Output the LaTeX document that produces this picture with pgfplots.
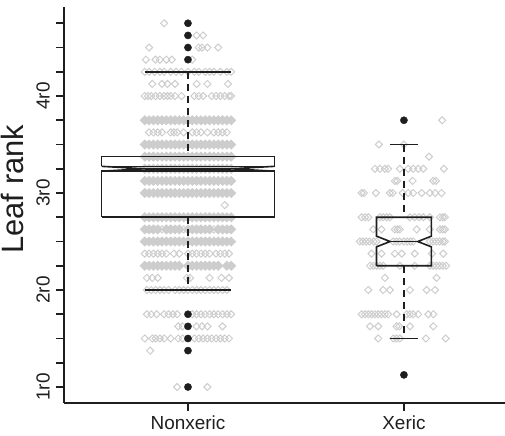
\documentclass[border=0pt]{standalone}
\usepackage{fontspec}
\setmainfont{Liberation Sans}
\usepackage{pgfplots}
\pgfplotsset{compat=1.18}
\definecolor{jit}{RGB}{205,205,205}
\definecolor{ink}{RGB}{30,30,30}
\begin{document}
\begin{tikzpicture}
\begin{axis}[
  at={(0,0)}, anchor=south west,
  scale only axis, width=441bp, height=396bp,
  xmin=0.426, xmax=2.468, ymin=0.835, ymax=4.918,
  enlargelimits=false,
  axis lines=left, axis line style={-, ink},
  x axis line style={line width=1.4bp},
  y axis line style={line width=2.2bp},
  tick align=outside, major tick length=8bp, minor tick length=8bp,
  tick style={ink, line width=1.8bp},
  xtick={1,2}, xticklabels={Nonxeric,Xeric},
  ytick={1,2,3,4}, yticklabels={1r0,2r0,3r0,4r0},
  minor ytick={1.25,1.5,1.75,2.25,2.5,2.75,3.25,3.5,3.75,4.25,4.5,4.75},
  tick label style={font=\fontsize{19}{22}\selectfont, text=ink},
  yticklabel style={rotate=90, anchor=south, inner sep=0pt},
  yticklabel shift=6bp,
  xticklabel style={anchor=north, inner sep=0pt},
  xticklabel shift=5bp,
  every axis y label/.style={at={(axis description cs:-0.090,0.54)},
    rotate=90, anchor=south, inner sep=0pt,
    font=\fontsize{31}{34}\selectfont, text=ink},
  ylabel={Leaf rank},
  clip=false,
  clip marker paths=true,
  jitter/.style={only marks, mark=square, mark size=2.5bp,
    mark options={rotate=45, draw=jit, line width=1bp}},
  dense/.style={only marks, mark=square*, mark size=3.2bp,
    mark options={rotate=45, draw=jit, fill=jit, line width=0.8bp}},
  boxline/.style={draw=ink, line width=1.6bp, mark=none},
  whisk/.style={draw=ink, line width=2.1bp, mark=none, dash pattern=on 7bp off 5bp},
]
% Nonxeric, rows that read as solid bands
\addplot[dense] coordinates {
(0.80,3.75)(0.82,3.75)(0.84,3.75)(0.86,3.75)(0.88,3.75)(0.90,3.75)(0.92,3.75)(0.94,3.75)(0.96,3.75)(0.98,3.75)(1.00,3.75)(1.02,3.75)(1.04,3.75)(1.06,3.75)(1.08,3.75)(1.10,3.75)(1.12,3.75)(1.14,3.75)(1.16,3.75)(1.18,3.75)(1.20,3.75)
(0.80,3.5)(0.82,3.5)(0.84,3.5)(0.86,3.5)(0.88,3.5)(0.90,3.5)(0.92,3.5)(0.94,3.5)(0.96,3.5)(0.98,3.5)(1.00,3.5)(1.02,3.5)(1.04,3.5)(1.06,3.5)(1.08,3.5)(1.10,3.5)(1.12,3.5)(1.14,3.5)(1.16,3.5)(1.18,3.5)(1.20,3.5)
(0.80,3.375)(0.82,3.375)(0.84,3.375)(0.86,3.375)(0.88,3.375)(0.90,3.375)(0.92,3.375)(0.94,3.375)(0.96,3.375)(0.98,3.375)(1.00,3.375)(1.02,3.375)(1.04,3.375)(1.06,3.375)(1.08,3.375)(1.10,3.375)(1.12,3.375)(1.14,3.375)(1.16,3.375)(1.18,3.375)(1.20,3.375)
(0.80,3.25)(0.82,3.25)(0.84,3.25)(0.86,3.25)(0.88,3.25)(0.90,3.25)(0.92,3.25)(0.94,3.25)(0.96,3.25)(0.98,3.25)(1.00,3.25)(1.02,3.25)(1.04,3.25)(1.06,3.25)(1.08,3.25)(1.10,3.25)(1.12,3.25)(1.14,3.25)(1.16,3.25)(1.18,3.25)(1.20,3.25)
(0.80,3.125)(0.82,3.125)(0.84,3.125)(0.86,3.125)(0.88,3.125)(0.90,3.125)(0.92,3.125)(0.94,3.125)(0.96,3.125)(0.98,3.125)(1.00,3.125)(1.02,3.125)(1.04,3.125)(1.06,3.125)(1.08,3.125)(1.10,3.125)(1.12,3.125)(1.14,3.125)(1.16,3.125)(1.18,3.125)(1.20,3.125)
(0.80,3.0)(0.82,3.0)(0.84,3.0)(0.86,3.0)(0.88,3.0)(0.90,3.0)(0.92,3.0)(0.94,3.0)(0.96,3.0)(0.98,3.0)(1.00,3.0)(1.02,3.0)(1.04,3.0)(1.06,3.0)(1.08,3.0)(1.10,3.0)(1.12,3.0)(1.14,3.0)(1.16,3.0)(1.18,3.0)(1.20,3.0)
(0.80,2.75)(0.82,2.75)(0.84,2.75)(0.86,2.75)(0.88,2.75)(0.90,2.75)(0.92,2.75)(0.94,2.75)(0.96,2.75)(0.98,2.75)(1.00,2.75)(1.02,2.75)(1.04,2.75)(1.06,2.75)(1.08,2.75)(1.10,2.75)(1.12,2.75)(1.14,2.75)(1.16,2.75)(1.18,2.75)(1.20,2.75)
(0.80,2.625)(0.82,2.625)(0.84,2.625)(0.86,2.625)(0.90,2.625)(0.92,2.625)(0.94,2.625)(0.96,2.625)(1.00,2.625)(1.02,2.625)(1.04,2.625)(1.06,2.625)(1.08,2.625)(1.10,2.625)(1.14,2.625)(1.16,2.625)(1.18,2.625)(1.20,2.625)
(0.80,2.5)(0.82,2.5)(0.84,2.5)(0.86,2.5)(0.88,2.5)(0.90,2.5)(0.92,2.5)(0.94,2.5)(0.96,2.5)(0.98,2.5)(1.00,2.5)(1.02,2.5)(1.04,2.5)(1.06,2.5)(1.08,2.5)(1.10,2.5)(1.12,2.5)(1.14,2.5)(1.16,2.5)(1.18,2.5)(1.20,2.5)
(0.80,2.25)(0.82,2.25)(0.84,2.25)(0.86,2.25)(0.88,2.25)(0.90,2.25)(0.92,2.25)(0.94,2.25)(0.96,2.25)(1.00,2.25)(1.02,2.25)(1.04,2.25)(1.06,2.25)(1.08,2.25)(1.10,2.25)(1.12,2.25)(1.14,2.25)(1.18,2.25)(1.20,2.25)
};
% Nonxeric, scattered diamonds
\addplot[jitter] coordinates {
(0.89,4.75)
(1.04,4.625)(1.07,4.625)
(0.82,4.5)(1.05,4.5)(1.065,4.5)(1.09,4.5)(1.14,4.5)
(0.805,4.375)(0.85,4.375)(0.87,4.375)(0.90,4.375)(0.925,4.375)(1.02,4.375)
(0.80,4.25)(0.82,4.25)(0.845,4.25)(0.87,4.25)(0.89,4.25)(0.92,4.25)(0.945,4.25)(0.97,4.25)(1.0,4.25)(1.03,4.25)(1.05,4.25)(1.08,4.25)(1.10,4.25)(1.12,4.25)(1.15,4.25)(1.18,4.25)(1.20,4.25)
(0.835,4.125)(0.88,4.125)(0.905,4.125)(0.94,4.125)(1.04,4.125)(1.09,4.125)(1.185,4.125)
(0.80,4.0)(0.815,4.0)(0.83,4.0)(0.85,4.0)(0.87,4.0)(0.89,4.0)(0.905,4.0)(0.92,4.0)(0.94,4.0)(0.97,4.0)(1.03,4.0)(1.05,4.0)(1.07,4.0)(1.11,4.0)(1.13,4.0)(1.15,4.0)(1.17,4.0)(1.19,4.0)(1.20,4.0)
(0.82,3.625)(0.84,3.625)(0.86,3.625)(0.88,3.625)(0.92,3.625)(0.935,3.625)(0.95,3.625)(0.98,3.625)(1.02,3.625)(1.04,3.625)(1.06,3.625)(1.09,3.625)(1.12,3.625)(1.14,3.625)(1.16,3.625)(1.18,3.625)
(1.17,2.875)
(0.88,2.625)(0.98,2.625)(1.12,2.625)
(0.80,2.375)(0.82,2.375)(0.84,2.375)(0.86,2.375)(0.88,2.375)(0.90,2.375)(0.935,2.375)(0.96,2.375)(1.0,2.375)(1.02,2.375)(1.04,2.375)(1.06,2.375)(1.08,2.375)(1.10,2.375)(1.13,2.375)(1.15,2.375)(1.17,2.375)(1.19,2.375)
(0.81,2.125)(0.835,2.125)(0.86,2.125)(0.995,2.125)(1.01,2.125)(1.10,2.125)(1.155,2.125)(1.19,2.125)
(0.81,2.0)(0.83,2.0)(0.85,2.0)(0.87,2.0)(0.89,2.0)(0.91,2.0)(0.94,2.0)(0.96,2.0)(0.98,2.0)(1.0,2.0)(1.02,2.0)(1.04,2.0)(1.06,2.0)(1.08,2.0)(1.10,2.0)(1.12,2.0)(1.14,2.0)(1.16,2.0)(1.18,2.0)
(0.81,1.75)(0.83,1.75)(0.855,1.75)(0.89,1.75)(0.91,1.75)(0.93,1.75)(0.95,1.75)(1.02,1.75)(1.04,1.75)(1.06,1.75)(1.08,1.75)(1.10,1.75)(1.12,1.75)(1.14,1.75)(1.16,1.75)(1.18,1.75)(1.20,1.75)
(0.955,1.625)(0.975,1.625)(1.04,1.625)(1.065,1.625)(1.09,1.625)(1.16,1.625)
(0.80,1.5)(0.835,1.5)(0.85,1.5)(0.87,1.5)(0.89,1.5)(0.92,1.5)(0.955,1.5)(0.975,1.5)(1.03,1.5)(1.05,1.5)(1.07,1.5)(1.09,1.5)(1.11,1.5)(1.13,1.5)(1.15,1.5)(1.17,1.5)(1.19,1.5)
(0.825,1.375)
(0.95,1.0)(1.09,1.0)
};
% Xeric, scattered diamonds
\addplot[jitter] coordinates {
(2.177,3.75)
(1.884,3.5)(2.0,3.5)
(2.116,3.375)
(1.866,3.25)(1.889,3.25)(1.912,3.25)(1.927,3.25)(1.981,3.25)(2.02,3.25)(2.043,3.25)(2.066,3.25)(2.09,3.25)(2.185,3.25)
(1.958,3.125)(1.969,3.125)(2.04,3.125)(2.136,3.125)(2.148,3.125)
(1.804,3.0)(1.815,3.0)(1.87,3.0)(1.935,3.0)(1.948,3.0)(1.994,3.0)(2.02,3.0)(2.043,3.0)(2.082,3.0)(2.12,3.0)(2.144,3.0)(2.174,3.0)
(1.804,2.75)(1.82,2.75)(1.835,2.75)(1.889,2.75)(1.904,2.75)(1.92,2.75)(1.935,2.75)(2.028,2.75)(2.05,2.75)(2.07,2.75)(2.09,2.75)(2.12,2.75)(2.167,2.75)(2.18,2.75)(2.19,2.75)
(1.858,2.625)(1.896,2.625)(1.958,2.625)(1.97,2.625)(1.981,2.625)(2.059,2.625)(2.12,2.625)(2.167,2.625)(2.18,2.625)(2.19,2.625)
(1.796,2.5)(1.81,2.5)(1.825,2.5)(1.84,2.5)(1.86,2.5)(1.873,2.5)(1.95,2.5)(1.965,2.5)(1.98,2.5)(2.0,2.5)(2.015,2.5)(2.03,2.5)(2.043,2.5)(2.12,2.5)(2.135,2.5)(2.15,2.5)(2.165,2.5)(2.18,2.5)(2.19,2.5)
(1.85,2.375)(1.896,2.375)(1.958,2.375)(1.99,2.375)(2.05,2.375)(2.13,2.375)(2.182,2.375)
(1.843,2.25)(1.858,2.25)(1.873,2.25)(1.889,2.25)(1.904,2.25)(1.981,2.25)(2.05,2.25)(2.12,2.25)(2.135,2.25)(2.15,2.25)(2.165,2.25)(2.18,2.25)(2.195,2.25)
(1.912,2.125)(2.151,2.125)
(1.835,2.0)(1.904,2.0)(1.935,2.0)(2.028,2.0)(2.105,2.0)(2.144,2.0)
(1.804,1.75)(1.82,1.75)(1.835,1.75)(1.85,1.75)(1.866,1.75)(1.881,1.75)(1.896,1.75)(1.912,1.75)(1.927,1.75)(1.966,1.75)(2.012,1.75)(2.028,1.75)(2.043,1.75)(2.066,1.75)(2.113,1.75)(2.136,1.75)
(1.843,1.625)(1.881,1.625)(1.966,1.625)(1.978,1.625)(2.028,1.625)(2.136,1.625)
(1.881,1.5)(1.951,1.5)(1.966,1.5)(1.981,1.5)(2.102,1.5)(2.193,1.5)
};
% Nonxeric box
\addplot[boxline] coordinates {(0.6,2.75)(1.4,2.75)(1.4,3.225)(0.6,3.225)(0.6,2.75)};
\addplot[boxline] coordinates {(0.6,3.275)(1.4,3.275)(1.4,3.375)(0.6,3.375)(0.6,3.275)};
\addplot[boxline] coordinates {(0.6,3.275)(0.8,3.25)(0.6,3.225)};
\addplot[boxline] coordinates {(1.4,3.275)(1.2,3.25)(1.4,3.225)};
\addplot[boxline] coordinates {(0.8,3.25)(1.2,3.25)};
\addplot[whisk] coordinates {(1,4.25)(1,3.375)};
\addplot[whisk] coordinates {(1,2.75)(1,2.0)};
\addplot[boxline, line width=1.9bp] coordinates {(0.8,4.25)(1.2,4.25)};
\addplot[boxline, line width=1.9bp] coordinates {(0.8,2.0)(1.2,2.0)};
% Xeric box
\addplot[boxline] coordinates {(1.873,2.25)(2.127,2.25)(2.127,2.445)(2.064,2.5)(2.127,2.555)(2.127,2.75)(1.873,2.75)(1.873,2.555)(1.936,2.5)(1.873,2.445)(1.873,2.25)};
\addplot[boxline] coordinates {(1.936,2.5)(2.064,2.5)};
\addplot[whisk] coordinates {(2,3.5)(2,2.75)};
\addplot[whisk] coordinates {(2,2.25)(2,1.5)};
\addplot[boxline, line width=1.9bp] coordinates {(1.935,3.5)(2.065,3.5)};
\addplot[boxline, line width=1.9bp] coordinates {(1.935,1.5)(2.065,1.5)};
% outliers
\addplot[only marks, mark=*, mark size=3.6bp, mark options={fill=ink, draw=ink}] coordinates {
(1,4.375)(1,4.5)(1,4.625)(1,4.75)(1,1.75)(1,1.625)(1,1.5)(1,1.375)(1,1.0)(2,3.75)(2,1.125)};
% heavier axis segment between the two categories
\addplot[draw=ink, line width=2.6bp, mark=none] coordinates {(1,0.835)(2,0.835)};
\end{axis}
\pgfresetboundingbox
\useasboundingbox (-64bp,-33bp) rectangle (441bp,403bp);
\end{tikzpicture}
\end{document}
